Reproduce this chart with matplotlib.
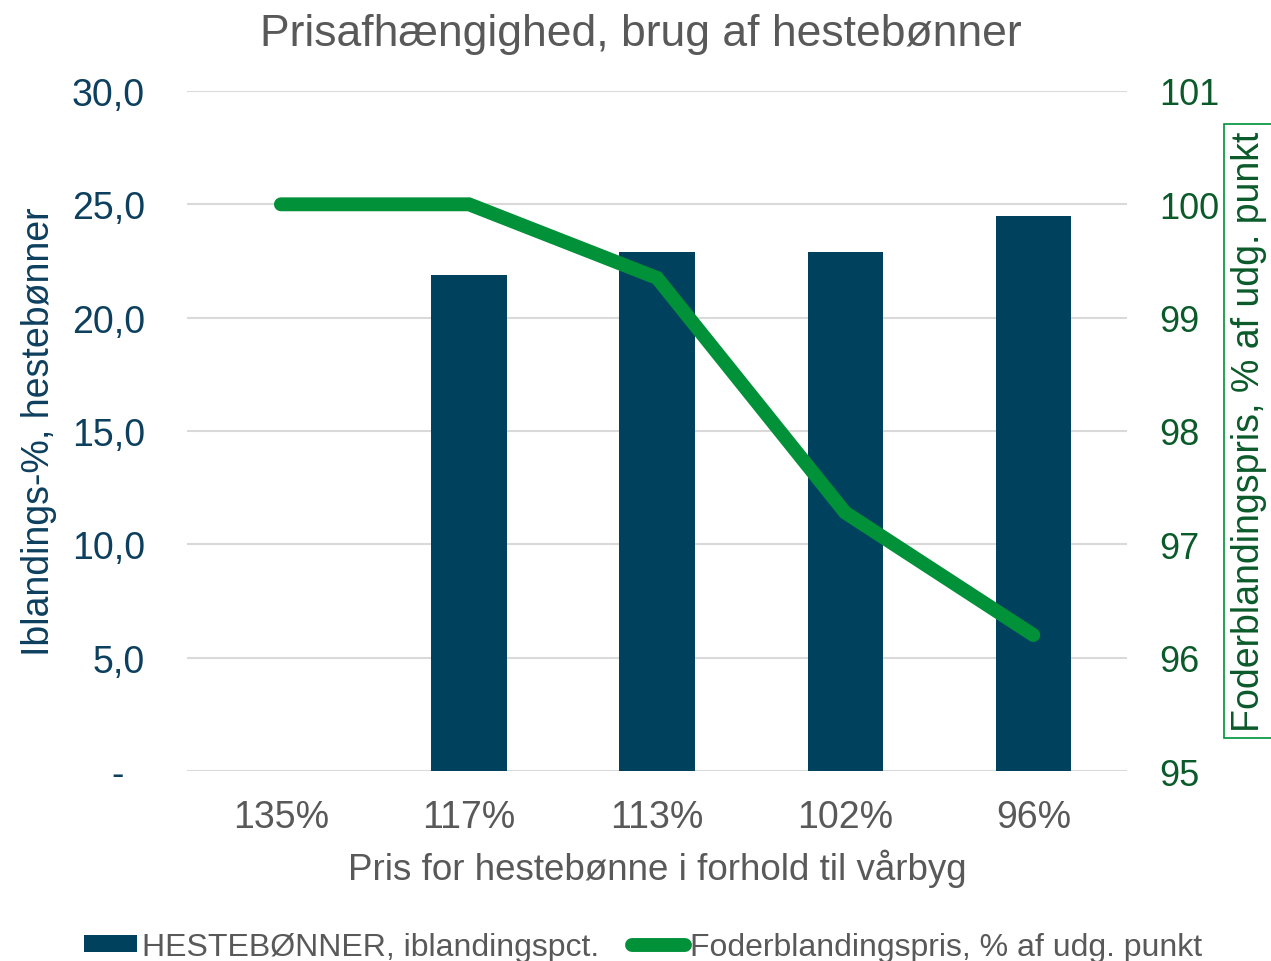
import matplotlib.pyplot as plt
from matplotlib.ticker import FuncFormatter

plt.rcParams['font.family'] = ['Liberation Sans', 'DejaVu Sans']

categories = ['135%', '117%', '113%', '102%', '96%']
iblanding = [0.0, 21.9, 22.9, 22.9, 24.5]
foderpris = [100.0, 100.0, 99.35, 97.28, 96.2]

bar_color = '#00415E'
line_color = '#009139'
left_color = '#0D3F5E'
right_color = '#0B5A2A'
gray = '#595959'

fig = plt.figure(figsize=(12.71, 9.62), dpi=100)
ax = fig.add_axes([0.147, 0.1975, 0.740, 0.7069])
ax2 = ax.twinx()

x = range(len(categories))
ax.bar(x, iblanding, width=0.4, color=bar_color, zorder=2,
       label='HESTEBØNNER, iblandingspct.')
ax2.plot(x, foderpris, color=line_color, lw=10, solid_capstyle='round',
         solid_joinstyle='miter', label='Foderblandingspris, % af udg. punkt')

ax.set_xlim(-0.5, len(categories) - 0.5)
ax.set_ylim(0, 30)
ax.set_yticks([0, 5, 10, 15, 20, 25, 30])
# excel-style: zero shown as a dash
ax.yaxis.set_major_formatter(FuncFormatter(
    lambda v, p: '-  ' if v == 0 else f'{v:.1f}'.replace('.', ',')))
ax2.set_ylim(95, 101)
ax2.set_yticks(range(95, 102))

ax.grid(axis='y', color='#D9D9D9', lw=1.5, zorder=0)
ax.set_axisbelow(True)
for a in (ax, ax2):
    for s in a.spines.values():
        s.set_visible(False)
    a.tick_params(length=0)

ax.set_xticks(list(x))
ax.set_xticklabels(categories, fontsize=27, color=gray)
ax.tick_params(axis='x', pad=20)
ax.tick_params(axis='y', labelsize=27, labelcolor=left_color, pad=30)
ax2.tick_params(axis='y', labelsize=26, labelcolor=right_color, pad=23)

ax.set_xlabel('Pris for hestebønne i forhold til vårbyg', fontsize=26.5,
              color=gray, labelpad=10)
ax.set_ylabel('Iblandings-%, hestebønner', fontsize=27, color=left_color,
              labelpad=11)
ax2.set_ylabel('Foderblandingspris, % af udg. punkt', fontsize=27,
               color=right_color, labelpad=8,
               bbox=dict(facecolor='none', edgecolor=line_color, lw=1.2, pad=5))
ax.set_title('Prisafhængighed, brug af hestebønner', fontsize=32,
             color=gray, pad=33, x=0.483)

h1, l1 = ax.get_legend_handles_labels()
h2, l2 = ax2.get_legend_handles_labels()
fig.legend(h1 + h2, l1 + l2, loc='lower center', ncol=2, frameon=False,
           bbox_to_anchor=(0.506, -0.031), fontsize=23, labelcolor=gray,
           handlelength=1.65, handleheight=0.45, handletextpad=0.15,
           columnspacing=1.05)

fig.savefig('out.png', dpi=100)
